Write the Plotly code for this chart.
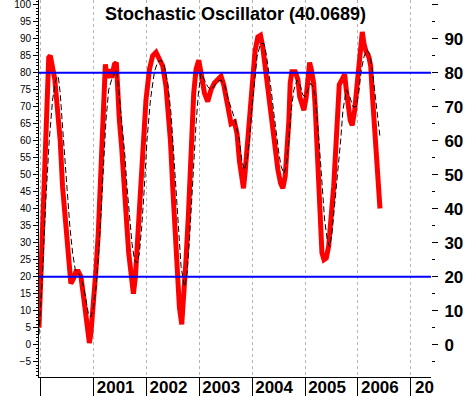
import pandas as pd
import plotly.graph_objects as go

TITLE = "Stochastic Oscillator (40.0689)"

# %K (red) – time in decimal years, value in %
k_time = [1999.968, 2000.006, 2000.044, 2000.081, 2000.119, 2000.152, 2000.182, 2000.224, 2000.267,
          2000.318, 2000.369, 2000.413, 2000.457, 2000.508, 2000.570, 2000.621, 2000.665, 2000.710,
          2000.760, 2000.811, 2000.855, 2000.887, 2000.919, 2000.949, 2000.995, 2001.044, 2001.089,
          2001.127, 2001.158, 2001.190, 2001.222, 2001.252, 2001.298, 2001.341, 2001.393, 2001.430,
          2001.455, 2001.487, 2001.531, 2001.569, 2001.601, 2001.631, 2001.664, 2001.707, 2001.753,
          2001.791, 2001.821, 2001.859, 2001.897, 2001.942, 2001.991, 2002.056, 2002.118, 2002.181,
          2002.245, 2002.308, 2002.370, 2002.416, 2002.454, 2002.497, 2002.541, 2002.579, 2002.624,
          2002.668, 2002.706, 2002.749, 2002.795, 2002.833, 2002.863, 2002.895, 2002.939, 2002.990,
          2003.033, 2003.098, 2003.160, 2003.223, 2003.287, 2003.350, 2003.412, 2003.463, 2003.507,
          2003.553, 2003.602, 2003.666, 2003.716, 2003.761, 2003.805, 2003.837, 2003.867, 2003.918,
          2003.962, 2004.013, 2004.057, 2004.108, 2004.159, 2004.202, 2004.246, 2004.297, 2004.341,
          2004.392, 2004.435, 2004.487, 2004.538, 2004.581, 2004.625, 2004.663, 2004.695, 2004.720,
          2004.752, 2004.814, 2004.866, 2004.898, 2004.941, 2004.979, 2005.023, 2005.055, 2005.087,
          2005.118, 2005.163, 2005.193, 2005.226, 2005.258, 2005.288, 2005.320, 2005.358, 2005.402,
          2005.447, 2005.496, 2005.542, 2005.580, 2005.610, 2005.648, 2005.699, 2005.750, 2005.781,
          2005.813, 2005.856, 2005.894, 2005.940, 2005.983, 2006.021, 2006.054, 2006.084, 2006.116,
          2006.160, 2006.211, 2006.243, 2006.273, 2006.306, 2006.338, 2006.368, 2006.395, 2006.419]
k_value = [5, 22, 44, 62, 76, 84.5, 85, 81.5, 78,
           69, 60, 46.5, 37.5, 27, 18, 19.5, 21.5, 21.5,
           20, 14, 8, 3.5, 0.5, 3.5, 11, 22, 33,
           46.5, 60, 72, 82.5, 78.5, 81, 78.5, 82.5, 83,
           74, 66, 58, 50.5, 42.5, 34.5, 27, 20, 15,
           20, 27, 36.5, 46.5, 60, 72, 81, 85, 86,
           84, 82, 76, 69, 60, 46.5, 33, 21, 11,
           6, 13, 25, 38.5, 52.5, 64, 74, 81, 83.7,
           80, 74, 71.5, 75, 77, 78, 79, 76.5, 73,
           69, 65, 65.5, 62, 54, 48.5, 46, 50.5, 60,
           69, 79, 86.5, 90.5, 91, 87.5, 82, 76, 70,
           62, 56, 51.5, 47.5, 46, 49.5, 57, 66, 77,
           80.3, 80.3, 78, 73, 70, 69, 73, 79, 83,
           81, 77, 70, 60, 48.5, 37.5, 27, 25, 25.5,
           29, 36.5, 46.5, 57, 68, 76.5, 78, 79.5, 75,
           70, 66, 64.5, 69, 76, 82, 88.5, 92, 88.5,
           86, 84.5, 82, 74, 66, 57, 50.5, 44.5, 40.0689]

# %D (black dashed)
d_time = [1999.968, 2000.034, 2000.097, 2000.161, 2000.224, 2000.286, 2000.332, 2000.369, 2000.413,
          2000.457, 2000.508, 2000.551, 2000.603, 2000.654, 2000.710, 2000.760, 2000.811, 2000.855,
          2000.900, 2000.949, 2001.000, 2001.044, 2001.095, 2001.139, 2001.184, 2001.233, 2001.285,
          2001.341, 2001.393, 2001.436, 2001.468, 2001.506, 2001.550, 2001.593, 2001.631, 2001.677,
          2001.726, 2001.772, 2001.815, 2001.863, 2001.910, 2001.961, 2002.010, 2002.075, 2002.151,
          2002.213, 2002.276, 2002.340, 2002.403, 2002.465, 2002.516, 2002.560, 2002.605, 2002.655,
          2002.719, 2002.768, 2002.814, 2002.857, 2002.895, 2002.939, 2002.984, 2003.033, 2003.098,
          2003.160, 2003.223, 2003.287, 2003.350, 2003.412, 2003.488, 2003.553, 2003.615, 2003.678,
          2003.729, 2003.761, 2003.805, 2003.856, 2003.905, 2003.950, 2003.994, 2004.045, 2004.094,
          2004.159, 2004.221, 2004.265, 2004.310, 2004.360, 2004.411, 2004.454, 2004.506, 2004.549,
          2004.600, 2004.644, 2004.689, 2004.739, 2004.790, 2004.852, 2004.917, 2004.960, 2005.004,
          2005.055, 2005.106, 2005.150, 2005.193, 2005.245, 2005.288, 2005.326, 2005.371, 2005.421,
          2005.466, 2005.510, 2005.561, 2005.604, 2005.675, 2005.718, 2005.781, 2005.845, 2005.908,
          2005.970, 2006.016, 2006.065, 2006.116, 2006.173, 2006.224, 2006.273, 2006.319, 2006.362,
          2006.400, 2006.419]
d_value = [3, 21, 42.5, 60, 72, 78, 79, 74, 64,
           54.3, 44.6, 34.7, 27, 22, 21, 20, 17, 13,
           9.2, 8.2, 11.2, 17, 27, 38.6, 52.4, 66, 75,
           78, 79.8, 80.8, 76, 70, 63, 55.4, 46.5, 37.7,
           29.8, 25, 24, 26.5, 34.7, 46.5, 60.2, 72, 80.3,
           83.2, 83.7, 81.8, 76.9, 68, 56.3, 44.5, 32.8, 23,
           17, 21, 30.8, 42.6, 54.3, 65.1, 74, 79.8, 77.9,
           75.9, 75, 76.4, 77.4, 77.9, 75.9, 72, 69, 66.1,
           62.2, 60.2, 54.3, 51.4, 54.3, 60.2, 69, 77.9, 84.7,
           88.6, 88.6, 85.7, 80.8, 75, 68, 62.2, 56.3, 52.4,
           50.4, 52.4, 59.2, 69, 75, 77.9, 75.9, 73.4, 73,
           75, 76.9, 75.9, 73, 64.1, 54.3, 44.5, 36.7, 30.8,
           28.8, 32.8, 40.6, 48, 60.2, 69, 75, 73, 70,
           70, 74, 80.8, 84.7, 86.7, 85.7, 80.8, 75, 69,
           64.1, 61.2]

levels = [80, 20]
x_span = [1999.968, 2007.385]
y_span = [-9.5, 101.4]
year_ticks = [2001, 2002, 2003, 2004, 2005, 2006]
year_text = ["2001", "2002", "2003", "2004", "2005", "2006"]
clipped_year = (2007, "20")
left_ticks = list(range(-5, 101, 5))
right_ticks = list(range(0, 101, 10))
right_text = [str(v) for v in range(0, 91, 10)] + [""]


def to_date(t):
    y = int(t)
    a = pd.Timestamp(year=y, month=1, day=1)
    b = pd.Timestamp(year=y + 1, month=1, day=1)
    return a + (b - a) * (t - y)


FONT = "Liberation Sans, Arial, sans-serif"

fig = go.Figure()
fig.add_trace(go.Scatter(x=[to_date(t) for t in k_time], y=k_value, mode="lines",
                         line=dict(color="#ff0000", width=5), yaxis="y", showlegend=False,
                         hoverinfo="skip"))
fig.add_trace(go.Scatter(x=[to_date(t) for t in d_time], y=d_value, mode="lines",
                         line=dict(color="#000000", width=1, dash="6px,3px"), yaxis="y2",
                         showlegend=False, hoverinfo="skip"))

for lv in levels:
    fig.add_shape(type="line", xref="paper", x0=0, x1=1, yref="y", y0=lv, y1=lv,
                  line=dict(color="#0000ff", width=2), layer="above")

years_all = [pd.Timestamp(year=y, month=1, day=1) for y in range(2000, 2008)]

fig.update_layout(
    width=469, height=396,
    margin=dict(l=39, r=38, t=0, b=19, autoexpand=False),
    paper_bgcolor="white", plot_bgcolor="white",
    showlegend=False,
    xaxis=dict(
        type="date", automargin=False,
        range=[to_date(x_span[0]), to_date(x_span[1])],
        tickmode="array",
        tickvals=[pd.Timestamp(year=y, month=1, day=1) for y in year_ticks],
        ticktext=year_text,
        ticks="",
        ticklabelshift=22,
        ticklabelstandoff=-5,
        ticklabeloverflow="allow",
        showgrid=False,
        showline=True, linecolor="black", linewidth=1,
        tickfont=dict(family=FONT, size=17, color="black", weight="bold"),
        minor=dict(tickmode="array", tickvals=years_all, ticks="outside", ticklen=19,
                   tickcolor="black", tickwidth=1, showgrid=True,
                   gridcolor="#b4b4b4", griddash="3px,3px", gridwidth=1),
        zeroline=False,
    ),
    yaxis=dict(
        range=y_span, automargin=False,
        tickmode="array", tickvals=left_ticks,
        ticks="outside", ticklen=5, tickcolor="black",
        ticklabeloverflow="allow",
        showline=True, linecolor="black", linewidth=1,
        showgrid=False, zeroline=False,
        tickfont=dict(family=FONT, size=10, color="black"),
        minor=dict(dtick=1, ticks="outside", ticklen=2, tickcolor="black", showgrid=False),
    ),
    yaxis2=dict(
        range=y_span, overlaying="y", side="right", automargin=False,
        tickmode="array", tickvals=right_ticks, ticktext=right_text,
        ticks="outside", ticklen=6, tickcolor="black",
        ticklabelstandoff=3, ticklabeloverflow="allow",
        showline=False, showgrid=False, zeroline=False,
        tickfont=dict(family=FONT, size=17, color="black", weight="bold"),
        minor=dict(dtick=5, ticks="outside", ticklen=3, tickcolor="black", showgrid=False),
    ),
)

fig.add_annotation(text=TITLE, xref="paper", yref="paper", x=0.5, y=1, yanchor="top",
                   xanchor="center", yshift=-2, showarrow=False,
                   font=dict(family=FONT, size=18, color="black", weight="bold"))
fig.add_annotation(text=clipped_year[1], xref="x", yref="paper",
                   x=pd.Timestamp(year=clipped_year[0], month=1, day=1), y=0,
                   xanchor="left", yanchor="top", xshift=2, yshift=1, showarrow=False,
                   font=dict(family=FONT, size=17, color="black", weight="bold"))

fig.write_html("out.html", config={"displayModeBar": False},
               post_script="document.body.style.margin='0';document.body.style.overflow='hidden';")
